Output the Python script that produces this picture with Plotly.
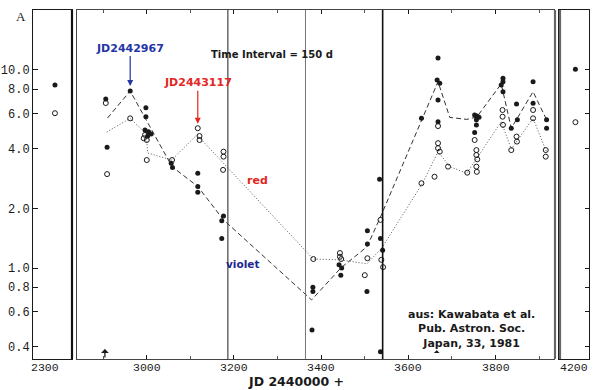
import math
import plotly.graph_objects as go

# ---------------- data (JD - 2440000, equivalent width in Angstrom) ----------------
# main panel: individual measurements
violet_jd = [2906, 2909, 2962, 2998, 2998, 2996, 3004, 3010, 3002, 3056,
             3059, 3117, 3117, 3117, 3176, 3172, 3172, 3381, 3381, 3379,
             3441, 3447, 3445, 3506, 3506, 3505, 3534, 3536, 3541, 3536,
             3630, 3668, 3666, 3672, 3668, 3668, 3752, 3757, 3762, 3756,
             3756, 3752, 3817, 3817, 3813, 3817, 3836, 3848, 3850, 3886,
             3886, 3917, 3917]
violet_w = [7.14, 4.07, 7.83, 6.45, 5.81, 4.98, 4.88, 4.75, 4.64, 3.38,
            3.22, 3.01, 2.58, 2.41, 1.83, 1.73, 1.41, 0.80, 0.76, 0.486,
            1.04, 1.00, 0.92, 1.54, 1.32, 0.76, 2.81, 1.41, 1.23, 0.378,
            5.70, 11.5, 8.90, 8.57, 7.05, 5.48, 5.93, 5.86, 5.77, 5.60,
            5.28, 4.83, 9.08, 8.73, 8.40, 7.77, 5.08, 6.74, 5.60, 8.73,
            6.79, 5.60, 5.08]

red_jd = [2906, 2909, 2962, 2996, 3000, 2993, 3000, 3058, 3117, 3121,
          3121, 3176, 3176, 3175, 3382, 3443, 3443, 3446, 3506, 3500,
          3536, 3538, 3542, 3630, 3660, 3668, 3668, 3672, 3668, 3691,
          3735, 3752, 3756, 3756, 3758, 3756, 3757, 3816, 3816, 3817,
          3848, 3849, 3886, 3886, 3915, 3915, 3836]
red_w = [6.81, 2.98, 5.70, 4.70, 4.43, 4.52, 3.51, 3.51, 5.08, 4.64,
         4.43, 3.87, 3.65, 3.13, 1.11, 1.19, 1.14, 1.11, 1.12, 0.92,
         1.75, 1.10, 1.01, 2.68, 2.89, 4.27, 4.03, 3.87, 5.21, 3.25,
         3.03, 4.43, 3.94, 3.72, 3.54, 3.25, 3.06, 6.28, 5.81, 5.28,
         4.61, 4.35, 6.28, 5.70, 3.94, 3.65, 3.94]

# 150-day mean curves
violet_mean_jd = [2910, 2962, 3058, 3117, 3176, 3378, 3445, 3505, 3537,
                  3668, 3695, 3734, 3757, 3813, 3836, 3886, 3917]
violet_mean_w = [5.72, 7.83, 3.25, 2.58, 1.75, 0.69, 1.00, 1.28, 1.83,
                 8.73, 5.76, 5.63, 5.79, 8.51, 5.08, 7.77, 5.60]
red_mean_jd = [2908, 2962, 2999, 3002, 3057, 3115, 3382, 3443, 3505, 3539,
               3633, 3668, 3695, 3734, 3759, 3813, 3836, 3886, 3917]
red_mean_w = [4.86, 5.70, 4.75, 3.81, 3.51, 4.70, 1.11, 1.10, 1.05, 1.26,
              2.69, 3.87, 3.25, 3.01, 3.64, 5.48, 3.99, 5.70, 3.85]

# side panels
left_jd = [2320]
left_violet = [8.4]
left_red = [6.05]
right_jd = [4203]
right_violet = [10.1]
right_red = [5.45]

# interval boundaries drawn as vertical lines
interval_lines = [3186, 3364, 3541]

ytick_vals = [0.4, 0.6, 0.8, 1.0, 2.0, 4.0, 6.0, 8.0, 10.0]
ytick_text = ["0.4", "0.6", "0.8", "1.0", "2.0", "4.0", "6.0", "8.0", "10.0"]
xtick_left = [2300]
xtick_main = [3000, 3200, 3400, 3600, 3800]
xtick_right = [4200]

# ---------------- layout geometry ----------------
W, H = 597, 390
ML, MR, MT, MB = 33, 8, 10, 31
PW, PH = W - ML - MR, H - MT - MB


def pxx(px):
    return (px - ML) / PW


def pxy(py):
    return (H - MB - py) / PH


YR = [-0.4596, 1.303]
INK = "#1a1a1a"
BLUE = "#2435a6"
RED = "#e3261f"
VIOLET = "#1c2890"
SANS = "DejaVu Sans"
MONO = "Liberation Mono"

fig = go.Figure()

filled = dict(symbol="circle", size=5, color=INK)
hollow = dict(symbol="circle-open", size=5, color=INK, line=dict(width=1, color=INK))

# left panel
fig.add_trace(go.Scatter(x=left_jd, y=left_violet, mode="markers", marker=filled,
                         xaxis="x", yaxis="y"))
fig.add_trace(go.Scatter(x=left_jd, y=left_red, mode="markers", marker=hollow,
                         xaxis="x", yaxis="y"))
# main panel
fig.add_trace(go.Scatter(x=violet_mean_jd, y=violet_mean_w, mode="lines",
                         line=dict(color="#333", width=1, dash="5px,3px"),
                         xaxis="x2", yaxis="y2"))
fig.add_trace(go.Scatter(x=red_mean_jd, y=red_mean_w, mode="lines",
                         line=dict(color="#555", width=1, dash="1px,2px"),
                         xaxis="x2", yaxis="y2"))
fig.add_trace(go.Scatter(x=red_jd, y=red_w, mode="markers", marker=hollow,
                         xaxis="x2", yaxis="y2"))
fig.add_trace(go.Scatter(x=violet_jd, y=violet_w, mode="markers", marker=filled,
                         xaxis="x2", yaxis="y2"))
# right panel
fig.add_trace(go.Scatter(x=right_jd, y=right_violet, mode="markers", marker=filled,
                         xaxis="x3", yaxis="y3"))
fig.add_trace(go.Scatter(x=right_jd, y=right_red, mode="markers", marker=hollow,
                         xaxis="x3", yaxis="y3"))

xfont = dict(family=MONO, size=11.5, color=INK)
yfont = dict(family=MONO, size=12, color=INK)

common_x = dict(showline=True, linecolor=INK, linewidth=1, mirror=True, automargin=False,
                showgrid=False, zeroline=False, showticklabels=False, fixedrange=True)
common_y = dict(type="log", range=YR, showline=True, linecolor=INK, linewidth=1,
                mirror=True, showgrid=False, zeroline=False, tickvals=ytick_vals,
                ticktext=ytick_text, fixedrange=True, automargin=False)

fig.update_layout(
    width=W, height=H, margin=dict(l=ML, r=MR, t=MT, b=MB, autoexpand=False),
    paper_bgcolor="white", plot_bgcolor="white", showlegend=False,
    xaxis=dict(common_x, domain=[0, pxx(72)], range=[2275, 2355], anchor="y",
               tickvals=xtick_left, ticks=""),
    yaxis=dict(common_y, anchor="x", ticks="inside", ticklen=5, tickcolor=INK,
               tickfont=yfont),
    xaxis2=dict(common_x, domain=[pxx(77), pxx(554)], range=[2840, 3934], anchor="y2",
                tickvals=xtick_main, ticks="inside", ticklen=4, tickcolor=INK,
                mirror="ticks", linecolor="#444",
                minor=dict(dtick=100, ticks="inside", ticklen=3, tickcolor="#555")),
    yaxis2=dict(common_y, anchor="x2", showticklabels=False, ticks="", linecolor="#444"),
    xaxis3=dict(common_x, domain=[pxx(559), 1.0], range=[4168, 4232], anchor="y3",
                tickvals=xtick_right, ticks=""),
    yaxis3=dict(common_y, anchor="x3", side="right", showticklabels=False,
                ticks="inside", ticklen=4, tickcolor=INK),
)

shapes = []
for xv, col, wd in zip(interval_lines, ["#444", "#777", "#111"], [1.2, 1.0, 1.6]):
    shapes.append(dict(type="line", xref="x2", yref="y2 domain", x0=xv, x1=xv,
                       y0=0, y1=1, line=dict(color=col, width=wd)))
# heavier panel borders
for px, col, wd in [(72, "#111", 2.2), (555, "#666", 2.2), (560, "#666", 2.2)]:
    shapes.append(dict(type="line", xref="paper", yref="paper", x0=pxx(px), x1=pxx(px),
                       y0=0, y1=1, line=dict(color=col, width=wd)))
fig.update_layout(shapes=shapes)


def note(text, px, py, size, color=INK, family=SANS, weight="bold"):
    return dict(text=text, xref="paper", yref="paper", x=pxx(px), y=pxy(py),
                xanchor="center", yanchor="middle", showarrow=False,
                font=dict(family=family, size=size, color=color, weight=weight))


anns = [
    note("A", 21, 17, 13, family="Liberation Serif", weight="normal"),
    note("Time Interval = 150 d", 272, 55, 10),
    note("red", 257.5, 180, 11, color=RED),
    note("violet", 242.5, 264, 10.5, color=VIOLET),
    note("aus: Kawabata et al.<br>Pub. Astron. Soc.<br>Japan, 33, 1981", 471, 329, 11),
    note("JD 2440000 +", 296, 381, 12.5),
    dict(text="JD2442967", xref="x2", yref="y2", x=2962, y=math.log10(8.3),
         ax=0, ay=-38, showarrow=True, arrowhead=2, arrowsize=1, arrowwidth=1.2,
         arrowcolor=BLUE, standoff=0,
         font=dict(family=SANS, size=11, color=BLUE, weight="bold")),
    dict(text="JD2443117", xref="x2", yref="y2", x=3117, y=math.log10(5.35),
         ax=0, ay=-41, showarrow=True, arrowhead=2, arrowsize=1, arrowwidth=1.2,
         arrowcolor=RED, standoff=0,
         font=dict(family=SANS, size=11, color=RED, weight="bold")),
    dict(text="", xref="x2", yref="y2", x=2904, y=-0.409, ax=0, ay=10,
         showarrow=True, arrowhead=1, arrowsize=1, arrowwidth=1.3, arrowcolor=INK),
    dict(text="", xref="x2", yref="y2", x=3665, y=-0.415, ax=0, ay=3,
         showarrow=True, arrowhead=1, arrowsize=0.8, arrowwidth=1.2, arrowcolor=INK),
]
# x tick labels, placed on each panel's own x scale
for xref, vals in [("x", xtick_left), ("x2", xtick_main), ("x3", xtick_right)]:
    for v in vals:
        anns.append(dict(text=str(v), xref=xref, yref="paper", x=v, y=pxy(367),
                         xanchor="center", yanchor="middle", showarrow=False,
                         font=xfont))
fig.update_layout(annotations=anns)

fig.write_html("out.html",
               config={"displayModeBar": False, "staticPlot": True},
               post_script="document.body.style.margin='0px';"
                           "document.body.style.overflow='hidden';")
